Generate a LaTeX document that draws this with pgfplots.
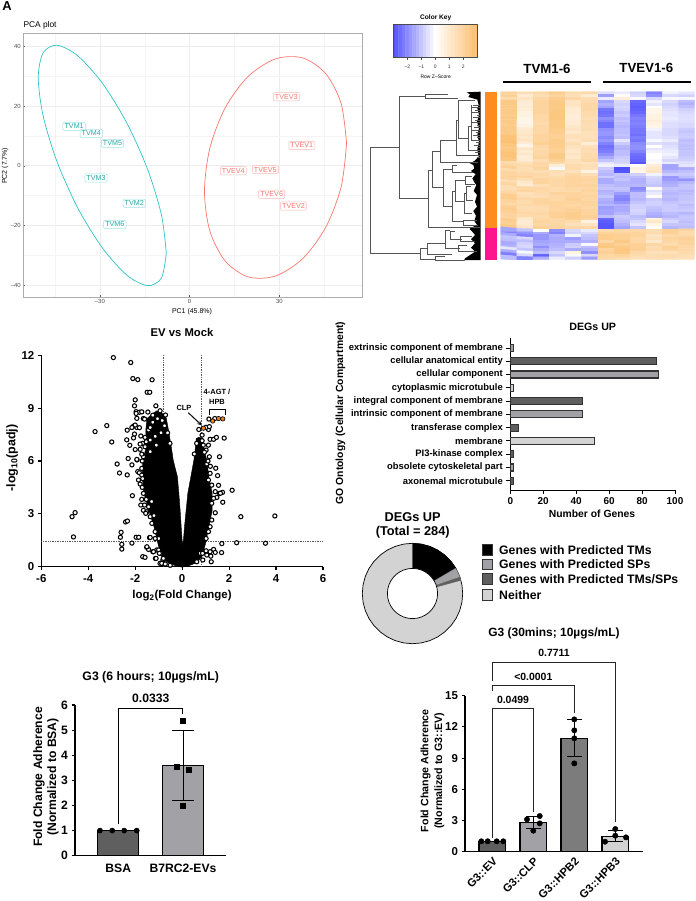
\documentclass[border=0pt]{standalone}
\usepackage{fontspec}
\setmainfont{Liberation Sans}
\usepackage{pgfplots}
\usepackage{pgfplotstable}
\pgfplotsset{compat=1.18}
\definecolor{tealc}{HTML}{2EC4C6}
\definecolor{redc}{HTML}{F8766D}
\definecolor{gdark}{HTML}{5F5F5F}
\definecolor{gmid}{HTML}{A2A2A6}
\definecolor{glight}{HTML}{D3D3D3}
\definecolor{gbar}{HTML}{7C7C7C}
\definecolor{dendro}{HTML}{555555}
\definecolor{orgbar}{HTML}{FF8C1E}
\definecolor{pinkbar}{HTML}{FF1490}
\definecolor{orgpt}{HTML}{E8821E}
\newcommand\fs[1]{\fontsize{#1}{#1}\selectfont}
\newcommand\T[4]{\node[font=\fs{#1},inner sep=0pt,#2] at (axis cs:#3) {#4};}
\tikzset{pca/.style={font=\fs{7.2},rounded corners=1.2bp,fill=white,inner sep=1.6bp,line width=.5bp}}
\pgfplotsset{
  place/.style n args={4}{scale only axis,at={(#1bp,{(901-#2-#4)*1bp})},anchor=south west,width=#3bp,height=#4bp},
  bold ax/.style={axis lines=left,axis line style={-,black,line width=1.1bp},
    tick style={black,line width=1.1bp},major tick length=3.5bp,tick align=outside,
    tick label style={font=\bfseries\fs{11.5}},/pgf/number format/assume math mode=true,clip=false},
  hole/.style={only marks,mark=*,mark size=2.1bp,mark options={fill=white,draw=black,line width=1.05bp}},
  gline/.style={dash pattern=on .8bp off .9bp,black!65,line width=.6bp},
}
\pgfplotstableread{
x y
0 1
.1736 .9848
.342 .9397
.5 .866
.6428 .766
.766 .6428
.866 .5
.9397 .342
.9848 .1736
1 0
.9848 -.1736
.9397 -.342
.866 -.5
.766 -.6428
.6428 -.766
.5 -.866
.342 -.9397
.1736 -.9848
0 -1
-.1736 -.9848
-.342 -.9397
-.5 -.866
-.6428 -.766
-.766 -.6428
-.866 -.5
-.9397 -.342
-.9848 -.1736
-1 0
-.9848 .1736
-.9397 .342
-.866 .5
-.766 .6428
-.6428 .766
-.5 .866
-.342 .9397
-.1736 .9848
}\unitcircle
\begin{document}
\begin{tikzpicture}
\useasboundingbox (0,0) rectangle (696bp,901bp);

% PCA
\begin{axis}[place={23.3}{33.3}{338.7}{264},
  xmin=-55.6,xmax=57.6,ymin=-44.1,ymax=44.4,
  xtick={-30,0,30},xticklabels={--30,0,30},ytick={-40,-20,0,20,40},yticklabels={--40,--20,0,20,40},
  minor xtick={-45,-15,15,45},minor ytick={-30,-10,10,30},
  grid=both,major grid style={gray!14,line width=.6bp},minor grid style={gray!9,line width=.35bp},
  axis line style={gray!65,line width=1bp},tick style={gray!70!black,line width=.4bp},
  major tick length=1.8bp,minor tick length=0pt,tick pos=left,
  tick label style={font=\fs{6},text=black!70},xticklabel shift=-1bp,yticklabel shift=-1bp]
\addplot[smooth,tealc,line width=.7bp] coordinates {(-7.8,-29.3)(-9.43,-16.5)(-14.07,-1.18)(-21,14.34)(-29.2,27.7)(-37.4,36.86)(-44.33,40.4)(-48.97,37.84)(-50.6,29.5)(-48.97,16.7)(-44.33,1.38)(-37.4,-14.14)(-29.2,-27.5)(-21,-36.66)(-14.07,-40.2)(-9.43,-37.64)(-7.8,-29.3)};
\addplot[smooth,redc,line width=.7bp] coordinates {(52.45,7.48)(50.64,20.81)(45.49,30.86)(37.8,36.15)(28.7,35.84)(19.6,29.99)(11.91,19.5)(6.76,5.95)(4.95,-8.6)(6.76,-21.93)(11.91,-31.98)(19.6,-37.27)(28.7,-36.96)(37.8,-31.11)(45.49,-20.62)(50.64,-7.07)(52.45,7.48)};
\node[pca,draw=tealc!45,text=tealc!85!black] at (axis cs:-38.6,13.2) {TVM1};
\node[pca,draw=tealc!45,text=tealc!85!black] at (axis cs:-32.9,10.8) {TVM4};
\node[pca,draw=tealc!45,text=tealc!85!black] at (axis cs:-25.8,7.5) {TVM5};
\node[pca,draw=tealc!45,text=tealc!85!black] at (axis cs:-31.3,-4.1) {TVM3};
\node[pca,draw=tealc!45,text=tealc!85!black] at (axis cs:-18.5,-12.6) {TVM2};
\node[pca,draw=tealc!45,text=tealc!85!black] at (axis cs:-25,-19.7) {TVM6};
\node[pca,draw=redc!50,text=redc] at (axis cs:32.3,23.1) {TVEV3};
\node[pca,draw=redc!50,text=redc] at (axis cs:37.5,6.8) {TVEV1};
\node[pca,draw=redc!50,text=redc] at (axis cs:14.6,-1.7) {TVEV4};
\node[pca,draw=redc!50,text=redc] at (axis cs:25.3,-1.3) {TVEV5};
\node[pca,draw=redc!50,text=redc] at (axis cs:27.4,-9.6) {TVEV6};
\node[pca,draw=redc!50,text=redc] at (axis cs:34.7,-13.5) {TVEV2};
\end{axis}

% colour key
\begin{axis}[place={393}{24.3}{84.7}{33.4},xmin=-3.02,xmax=3.03,ymin=0,ymax=1,
  colormap={key}{rgb255(0cm)=(79,79,255);rgb255(3cm)=(255,255,255);rgb255(6cm)=(253,190,110)},
  point meta min=-3,point meta max=3,
  xtick={-2,-1,0,1,2},xticklabels={--2,--1,0,1,2},ytick=\empty,tick pos=left,tick align=outside,
  major tick length=2bp,tick style={black!70,line width=.4bp},axis line style={black!70,line width=.6bp},
  tick label style={font=\fs{5},text=black!80},xticklabel shift=1.5bp,axis on top]
\addplot[matrix plot*,mesh/cols=25,point meta=x] table[row sep=crcr,header=false,x index=0,y expr={floor(\coordindex/25)}] {
-3\\-2.75\\-2.5\\-2.25\\-2\\-1.75\\-1.5\\-1.25\\-1\\-.75\\-.5\\-.25\\0\\.25\\.5\\.75\\1\\1.25\\1.5\\1.75\\2\\2.25\\2.5\\2.75\\3\\
-3\\-2.75\\-2.5\\-2.25\\-2\\-1.75\\-1.5\\-1.25\\-1\\-.75\\-.5\\-.25\\0\\.25\\.5\\.75\\1\\1.25\\1.5\\1.75\\2\\2.25\\2.5\\2.75\\3\\
};
\end{axis}

% heat map, one line per row
\begin{axis}[place={500.7}{91.7}{194}{168},hide axis,xmin=-.5,xmax=11.5,ymin=-.5,ymax=59.5,y dir=reverse,
  colormap={heat}{rgb255(0cm)=(79,79,255);rgb255(2.7cm)=(255,255,255);rgb255(4.6cm)=(252,192,112)},
  point meta min=-3,point meta max=1.6]
\addplot[matrix plot*,mesh/cols=12,point meta=explicit] table[row sep=crcr,header=false,x expr={mod(\coordindex,12)},y expr={floor(\coordindex/12)},meta index=0] {
1.0\\.7\\.9\\1.2\\.8\\.9\\-.8\\-.6\\-1.0\\-2.2\\-.5\\-.7\\
1.1\\.3\\.7\\1.0\\.6\\.3\\-1.8\\-.2\\-.9\\-2.0\\-.9\\-1.0\\
.8\\.5\\.9\\1.2\\.9\\.7\\-.6\\.2\\-.4\\-.9\\-.4\\-.4\\
1.3\\.3\\1.0\\1.3\\.5\\.8\\-1.7\\-.9\\-2.6\\-.5\\-.9\\-1.3\\
1.3\\.2\\1.0\\1.3\\.5\\.9\\-1.5\\-1.0\\-2.7\\-.7\\-1.0\\-1.5\\
1.3\\.3\\1.0\\1.3\\.4\\.9\\-1.7\\-.9\\-2.8\\-.3\\-.9\\-1.3\\
1.3\\.2\\1.0\\1.3\\.3\\.9\\-2.4\\-1.0\\-2.7\\.0\\-.8\\-1.0\\
1.3\\.1\\1.0\\1.4\\.3\\.8\\-2.5\\-1.2\\-2.6\\.0\\-.7\\-.9\\
1.2\\.1\\.9\\1.4\\.2\\.8\\-2.4\\-1.1\\-2.4\\.1\\-.7\\-.8\\
1.3\\.0\\.9\\1.4\\.2\\.7\\-2.0\\-1.3\\-2.2\\.1\\-.6\\-.8\\
1.3\\.0\\.9\\1.3\\.3\\.8\\-2.2\\-1.2\\-2.3\\.2\\-.7\\-.8\\
1.3\\.0\\.8\\1.3\\.3\\.7\\-2.5\\-1.3\\-2.2\\.1\\-.8\\-.9\\
1.2\\.1\\.9\\1.3\\.4\\.7\\-2.5\\-1.4\\-2.3\\.0\\-.8\\-.9\\
1.3\\.3\\.9\\1.2\\.5\\.7\\-2.0\\-1.3\\-2.4\\-.5\\-.9\\-1.1\\
1.3\\.4\\.9\\1.2\\.4\\.6\\-1.9\\-1.3\\-2.4\\-.7\\-.9\\-1.2\\
1.4\\.5\\1.0\\1.1\\.6\\.6\\-1.9\\-1.2\\-2.5\\-.7\\-.9\\-1.1\\
1.5\\.4\\1.0\\1.1\\.6\\.6\\-2.1\\-1.3\\-2.3\\-.7\\-.8\\-1.1\\
1.5\\.5\\1.0\\1.2\\.5\\.7\\-1.9\\-.7\\-2.4\\-.4\\-.6\\-1.3\\
1.6\\.3\\1.1\\1.2\\.7\\.2\\-2.2\\-1.1\\-2.1\\-.8\\-.9\\-1.2\\
1.4\\.0\\.9\\1.2\\.6\\.6\\-2.5\\-1.4\\-2.0\\-.3\\-.8\\-1.3\\
1.3\\.5\\.8\\1.1\\.5\\.8\\-2.4\\-1.5\\-2.0\\-.7\\-.7\\-1.3\\
1.4\\.3\\.9\\1.1\\.4\\.7\\-2.3\\-1.3\\-2.2\\-.5\\-.6\\-1.2\\
1.5\\.4\\.9\\1.3\\.5\\.8\\-2.0\\-1.3\\-2.5\\-.3\\-.5\\-1.2\\
1.5\\.2\\1.0\\1.3\\.4\\.8\\-1.6\\-1.1\\-2.6\\-.3\\-.7\\-1.1\\
1.4\\.3\\.7\\1.1\\.6\\.9\\-1.2\\-1.0\\-2.7\\-.4\\-.9\\-1.0\\
.6\\.6\\.9\\.8\\.6\\.5\\-.7\\-.9\\-2.9\\-.2\\-.6\\-.8\\
.9\\.8\\.9\\.2\\.8\\.7\\-.5\\-.6\\-.2\\.2\\-1.7\\-.7\\
1.1\\.7\\1.0\\-.4\\.8\\.6\\-1.1\\-3.0\\.1\\.4\\-1.7\\-1.6\\
.8\\.7\\.7\\.7\\.6\\.1\\-1.3\\-2.9\\.0\\.5\\-1.4\\-1.3\\
1.0\\.9\\.9\\.6\\.9\\.7\\-1.4\\-1.2\\-1.0\\-.5\\-1.1\\-1.1\\
1.1\\1.0\\.8\\.8\\1.0\\.9\\-1.1\\-1.3\\-1.3\\-.9\\-1.9\\-1.3\\
1.0\\.7\\1.0\\.9\\1.0\\1.0\\-1.6\\-1.2\\-1.5\\-1.0\\-1.8\\-2.0\\
.7\\.4\\1.0\\.9\\1.0\\.9\\-1.6\\-1.4\\-1.5\\-1.1\\-1.6\\-1.4\\
1.0\\.3\\.7\\.9\\1.0\\1.0\\-1.3\\-1.4\\-1.4\\-1.2\\-1.5\\-1.2\\
.7\\.9\\.9\\.8\\.9\\.9\\-1.2\\-1.2\\-2.1\\-.2\\-1.2\\-1.2\\
.8\\1.0\\.9\\.8\\.8\\1.0\\-1.5\\-1.3\\-1.9\\-.8\\-1.3\\-1.4\\
.9\\.6\\.8\\1.0\\1.0\\.9\\-1.4\\-1.8\\-1.3\\-.6\\-1.4\\-1.3\\
1.2\\.7\\.7\\.9\\1.0\\1.0\\-1.2\\-2.1\\-1.3\\-.2\\-1.3\\-1.2\\
1.2\\.9\\1.0\\.9\\1.1\\.9\\-1.5\\-2.2\\-1.4\\-1.1\\-1.4\\-1.2\\
1.0\\.8\\1.0\\1.0\\1.0\\1.0\\-1.6\\-1.9\\-1.2\\-1.0\\-1.2\\-1.1\\
.8\\.9\\.9\\1.0\\.9\\1.0\\-1.4\\-1.5\\-1.0\\-1.0\\-1.1\\-1.3\\
1.1\\.7\\.8\\1.0\\1.0\\.9\\-1.8\\-1.6\\-1.0\\-1.2\\-1.1\\-1.2\\
1.2\\.8\\.8\\1.0\\1.1\\1.0\\-1.7\\-1.6\\-.9\\-1.3\\-1.1\\-1.1\\
1.1\\.9\\.9\\1.1\\1.2\\1.0\\-1.7\\-1.4\\-1.0\\-1.5\\-1.3\\-1.4\\
1.0\\.8\\.8\\1.1\\1.2\\1.1\\-1.3\\-1.1\\-1.3\\-1.6\\-1.4\\-1.2\\
1.1\\.4\\.9\\.9\\1.1\\1.0\\-2.6\\-1.2\\-1.2\\.1\\-1.1\\-1.2\\
1.2\\.3\\1.0\\.9\\.8\\.1\\-2.8\\-1.3\\-.9\\.4\\-.9\\-1.3\\
1.1\\.3\\.9\\.9\\.6\\.5\\-2.9\\-1.5\\-.7\\.0\\-1.2\\-1.2\\
1.3\\.5\\1.1\\1.0\\.9\\.9\\-2.9\\-1.7\\-1.2\\-.2\\-1.4\\-1.3\\
-1.7\\-1.2\\-.3\\-2.0\\-.9\\-.6\\.8\\.9\\.9\\.7\\1.1\\1.0\\
-2.2\\-1.9\\-1.6\\-2.2\\-1.0\\-.9\\1.0\\1.0\\1.0\\.8\\1.1\\.8\\
-1.6\\-2.2\\-1.9\\-1.5\\-.5\\-1.2\\1.2\\1.1\\1.0\\.5\\.9\\.9\\
-1.2\\-.9\\-1.9\\-1.6\\-1.8\\-1.3\\1.2\\1.1\\.9\\.6\\1.0\\1.1\\
-1.3\\-1.3\\-1.7\\-1.6\\-1.6\\-1.5\\.9\\1.3\\.9\\.4\\.9\\1.0\\
-1.6\\-1.0\\-1.6\\-1.5\\-1.1\\-.4\\1.3\\1.1\\1.1\\.9\\.8\\1.0\\
-1.5\\-.9\\-2.0\\-1.4\\-1.0\\-1.3\\1.4\\1.3\\1.1\\.7\\1.1\\.9\\
-.7\\-1.2\\-1.6\\-1.3\\-1.6\\-1.5\\1.0\\1.4\\1.1\\.8\\1.0\\.9\\
-1.6\\-.4\\-1.3\\-.9\\.1\\-2.0\\1.1\\1.3\\.9\\.6\\.6\\.8\\
-2.3\\-.9\\-2.7\\-1.2\\-.4\\-.9\\.9\\1.0\\.8\\.7\\.8\\.7\\
-1.3\\-2.2\\-1.5\\-.6\\-1.0\\-1.8\\.9\\.8\\.6\\.7\\.7\\.6\\
};
\end{axis}

% dendrogram, coordinates in a 405x540 grid
\begin{axis}[place={365}{85}{135}{180},hide axis,xmin=0,xmax=405,ymin=0,ymax=540,y dir=reverse,clip=false]
\addplot[fill=black,draw=none] coordinates {(347,20)(305,22)(315,28)(310,36)(337,44)(341,60)(337,70)(342,90)(336,110)(342,130)(337,150)(342,170)(337,195)(341,215)(328,228)(315,235)(325,240)(328,250)(318,258)(332,268)(322,280)(328,292)(334,300)(326,318)(336,330)(330,350)(336,365)(325,378)(333,392)(328,408)(336,420)(318,428)(314,432)(320,438)(330,450)(318,462)(330,475)(318,488)(330,500)(312,512)(300,520)(298,525)(347,525)} --cycle;
\addplot[dendro,line width=.6bp,unbounded coords=jump] coordinates {
(103,187)(16,187)(16,505)(165,505)(nan,nan)
(182,33)(103,33)(103,340)(190,340)(nan,nan)
(250,28)(182,28)(182,40)(280,40)(nan,nan)
(202,255)(190,255)(190,427)(345,427)(nan,nan)
(225,198)(202,198)(202,308)(235,308)(nan,nan)
(275,167)(225,167)(225,232)(340,232)(nan,nan)
(280,105)(275,105)(275,212)(320,212)(nan,nan)
(330,47)(280,47)(280,160)(310,160)(nan,nan)
(318,125)(310,125)(310,195)(335,195)(nan,nan)
(322,60)(318,60)(318,165)(335,165)(nan,nan)
(262,252)(235,252)(235,365)(262,365)(nan,nan)
(275,240)(262,240)(262,262)(325,262)(nan,nan)
(270,320)(262,320)(262,410)(295,410)(nan,nan)
(300,285)(270,285)(270,350)(298,350)(nan,nan)
(305,325)(298,325)(298,385)(320,385)(nan,nan)
(335,405)(295,405)(295,420)(340,420)(nan,nan)
(320,275)(300,275)(300,298)(330,298)(nan,nan)
(318,305)(305,305)(305,345)(325,345)(nan,nan)
(187,490)(165,490)(165,522)(210,522)(nan,nan)
(240,475)(187,475)(187,507)(260,507)(nan,nan)
(255,435)(240,435)(240,490)(285,490)(nan,nan)
(270,440)(255,440)(255,462)(290,462)(nan,nan)
(240,514)(210,514)(210,527)(300,527)(nan,nan)
(320,455)(285,455)(285,470)(330,470)(nan,nan)
(305,480)(280,480)(280,500)(335,500)(nan,nan)
(325,60)(347,60)(nan,nan)(320,67)(347,67)(nan,nan)(330,75)(347,75)(nan,nan)(322,82)(347,82)(nan,nan)
(335,90)(347,90)(nan,nan)(325,97)(347,97)(nan,nan)(330,105)(347,105)(nan,nan)(322,112)(347,112)(nan,nan)
(335,120)(347,120)(nan,nan)(328,128)(347,128)(nan,nan)(320,135)(347,135)(nan,nan)(332,143)(347,143)(nan,nan)
(325,150)(347,150)(nan,nan)(335,158)(347,158)(nan,nan)(322,165)(347,165)(nan,nan)(333,173)(347,173)(nan,nan)
(328,180)(347,180)(nan,nan)(335,188)(347,188)(nan,nan)(325,195)(347,195)(nan,nan)(330,203)(347,203)(nan,nan)
(322,210)(347,210)(nan,nan)(335,218)(347,218)
};
\end{axis}

% volcano
\begin{axis}[bold ax,place={41.3}{355.3}{281.7}{211.4},xmin=-6,xmax=6,ymin=0,ymax=12,
  xtick={-6,-4,-2,0,2,4,6},xticklabels={-6,-4,-2,0,2,4,6},ytick={0,3,6,9,12},xticklabel shift=.5bp]
\addplot[gline] coordinates {(-6,1.42)(6,1.42)};
\addplot[gline] coordinates {(-.8,0)(-.8,12)};
\addplot[gline] coordinates {(.8,0)(.8,12)};
\addplot[fill=black,draw=black] coordinates {(0,-.03)(-.3,.06)(-.62,.25)(-.85,.5)(-.95,.9)(-1.03,1.3)(-1.2,2.27)(-1.42,3.2)(-1.63,4.16)(-1.7,5.1)(-1.68,6.05)(-1.55,6.7)(-1.55,7.75)(-1.5,8.4)(-1.3,8.65)(-1.08,8.85)(-.85,8.7)(-.68,8.45)(-.58,7.75)(-.44,6.6)(-.38,6.05)(-.2,5.1)(-.14,4.16)(-.085,3.2)(-.04,2.27)(.02,1.1)(.06,1.6)(.1,2.27)(.17,3.2)(.24,4.16)(.37,5.1)(.5,6.05)(.55,6.6)(.6,7.28)(.72,7.35)(.88,7.28)(.94,6.6)(1.05,6.05)(1.14,5.1)(1.28,4.16)(1.28,3.2)(1.14,2.27)(1,1.32)(.85,.6)(.65,.25)(.3,.06)} --cycle;
\addplot[hole] coordinates {
(-2.93,11.87)(-2.19,11.59)(-2.1,10.68)(-1.89,10.62)(-1.28,10.61)(-1.49,9.9)(-1.38,9.9)(-2,9.47)(-2.03,9.13)(-1.12,9.13)
(-3.71,7.67)(-3.21,8.01)(-3,7.08)(-2.34,7.75)(-1.96,8.8)(-1.82,8.77)(-1.72,8.79)(-1.46,8.78)(-1.96,8.7)(-1.65,8.41)(-1.6,8.38)(-1.93,8.42)(-1.25,8.6)(-.94,8.85)(-.71,8.61)
(-2.36,7.2)(-2.07,7.31)(-2.23,6.89)(-2,6.65)(-2.3,6.14)(-1.92,6.06)(-2.14,5.78)(-2.77,5.83)(-2.67,5.32)(-2.34,5.21)(-2.12,4.03)(-1.86,4.92)(-1.89,5.4)
(-2.41,2.54)(-2.33,2.59)(-4.69,2.84)(-4.56,3.07)(-4.63,1.69)(-2.6,1.95)(-2.63,1.67)(-2.57,1.27)(-2.57,1)(-2.14,1.34)(-1.96,1.67)(-1.85,1.67)(-1.39,1.65)
(-1.51,1.1)(-1.43,.98)(-1.25,.85)(-1.68,.57)(-1.58,.53)(-1.14,.47)(-.91,.76)(-.82,.38)(-.94,.19)(-.77,.17)(-.51,.08)(-1.08,.95)
(-2.07,7.98)(-1.93,7.9)(-1.82,7.89)(-2.14,7.9)(-2,8.04)(-2.03,7.53)(-1.76,7.42)(-1.58,7.34)(-1.68,7)(-1.36,7.19)(-1.43,7.76)(-1.36,7.9)(-1.79,6.96)(-1.79,6.66)(-1.53,7.09)(-1.58,6.81)(-1.93,6.09)(-1.65,6.24)(-1.36,6.53)(-1.72,6.39)
(-1.72,5.58)(-1.82,5.33)(-1.72,5.2)(-1.79,4.69)(-1.65,4.16)(-1.72,3.82)(-1.53,3.82)(-1.76,3.5)(-1.6,3.5)(-1.65,3.2)(-1.51,3.12)(-1.43,3.4)(-1.55,3.03)(-1.36,2.84)(-1.29,2.46)(-1.15,1.99)(-1,1.6)(-1.36,1.66)(-1.15,1.6)
(-1.5,1.13)(-1.22,.85)(-1,.95)(-1.11,.47)(-.97,.76)(-.8,.47)(-.87,.19)(-.72,.15)(-1.7,6)(-1.68,5)(-1.7,4.5)(-1.3,3.7)(-1.2,2.9)(-1.25,8.2)(-1.05,8.4)(-.85,8.3)(-.75,8)(-.62,7.6)(-.52,7)(-1.15,7.4)(-.9,7.6)(-1.1,6.9)
(1.05,5.83)(1.19,5.3)(1.12,4.92)(1.26,4.63)(1.43,5.59)(1.51,5.17)(1.55,4.62)(1.41,4.26)(1.59,4.16)(1.72,4.22)(1.48,3.93)(1.34,3.88)(1.73,3.66)(1.26,3.6)(1.41,3.06)(1.26,2.65)(1.19,2.27)(1.12,1.99)(1.02,1.6)(1.69,1.31)(2.32,1.36)(1.68,.8)(1.34,.98)(1.19,.85)(1.05,.66)(.77,.76)(.88,.38)(1.24,.28)(.62,.28)(1.41,.81)(.87,.76)(1.02,.9)(1.22,.6)
(2.13,4.34)(2.5,2.84)(3.95,2.88)(3.55,1.33)(1.63,4.17)
(.71,7.79)(.85,7.47)(1.12,7.79)(1.02,7.91)(1.14,8.38)(1.16,7.95)(1.39,8.41)(1.19,7.23)(1.34,7.23)(1.46,7.34)(1.79,7.3)(1.59,6.24)(1.12,6.9)(1.02,6.62)(1.16,6.24)(.85,7.15)(.9,6.9)(.95,6.5)(1.1,6)(.62,7)(.52,6.4)(1.2,5.7)
};
\addplot[only marks,mark=*,mark size=2.2bp,mark options={fill=orgpt,draw=black,line width=.6bp}] coordinates {(.91,7.86)(1.3,8.27)(1.55,8.41)(1.73,8.39)};
\end{axis}

% GO bars
\begin{axis}[bold ax,place={510.3}{338.3}{164.7}{151.7},xmin=0,xmax=100,ymin=.3,ymax=11.73,
  axis line style={-,black,line width=.8bp},tick style={black,line width=.8bp},
  xbar,bar width=7bp,bar shift=0pt,
  xtick={0,20,40,60,80,100},ytick={1,...,11},major tick length=4bp,
  x tick label style={font=\bfseries\fs{10}},y tick label style={font=\bfseries\fs{9.45}},
  yticklabels={axonemal microtubule,obsolete cytoskeletal part,PI3-kinase complex,membrane,transferase complex,intrinsic component of membrane,integral component of membrane,cytoplasmic microtubule,cellular component,cellular anatomical entity,extrinsic component of membrane}]
\addplot[fill=gdark,draw=black!80,line width=1.2bp] coordinates {(89,10)(44,7)(5,5)(2,3)(2,1)};
\addplot[fill=gmid,draw=black!80,line width=1.2bp] coordinates {(2,11)(90,9)(44,6)(2,2)};
\addplot[fill=glight,draw=black!80,line width=1.2bp] coordinates {(2,8)(51,4)};
\end{axis}

% donut, TMs 47, SPs 9, both 3, neither 225 of 284
\begin{axis}[place={362.3}{543.3}{100.4}{100.4},hide axis,xmin=-1,xmax=1,ymin=-1,ymax=1,clip=false]
\addplot[fill=glight,draw=black,line width=.7bp] table[x=x,y=y] {\unitcircle} --cycle;
\addplot[fill=black,draw=black,line width=.4bp] coordinates {(0,0)(0,1)(.1736,.9848)(.342,.9397)(.5,.866)(.6428,.766)(.766,.6428)(.8625,.506)} --cycle;
\addplot[fill=gmid,draw=black!60,line width=.3bp] coordinates {(0,0)(.8625,.506)(.9397,.342)(.9455,.3256)} --cycle;
\addplot[fill=gdark,draw=black!60,line width=.3bp] coordinates {(0,0)(.9455,.3256)(.965,.2622)} --cycle;
\addplot[fill=white,draw=black,line width=.7bp] table[x expr=\thisrow{x}*.5,y expr=\thisrow{y}*.5] {\unitcircle} --cycle;
\end{axis}

% G3 6 hours
\begin{axis}[bold ax,place={75}{705}{150.7}{150.7},xmin=.331,xmax=2.66,ymin=0,ymax=6,
  xtick={1,2},xticklabels={BSA,B7RC2-EVs},ytick={0,...,6},x tick style={draw=none},
  xticklabel shift=1bp,tick label style={font=\bfseries\fs{12.2}},ybar,bar width=41.3bp,bar shift=0pt]
\addplot[fill=gdark,draw=black,line width=1.1bp] coordinates {(1,1)};
\addplot[fill=gmid,draw=black,line width=1.1bp] coordinates {(2,3.6)};
\addplot[draw=none,mark=none,error bars/.cd,y dir=both,y explicit,
  error bar style={black,line width=.8bp},error mark options={rotate=90,black,mark size=11bp,line width=.8bp}]
  coordinates {(2,3.6)+-(0,1.4)};
\addplot[only marks,mark=*,mark size=2.6bp,black] coordinates {(.717,1)(.906,1)(1.091,1)(1.285,1)};
\addplot[only marks,mark=square*,mark size=2.5bp,black] coordinates {(2,5.39)(1.91,3.54)(2.09,3.44)(2,1.99)};
\end{axis}

% G3 30 mins
\begin{axis}[bold ax,place={465}{695.7}{177.7}{156},xmin=.334,xmax=4.668,ymin=0,ymax=15,
  xtick={1,2,3,4},xticklabels={G3::EV,G3::CLP,G3::HPB2,G3::HPB3},ytick={0,3,...,15},x tick style={draw=none},
  x tick label style={font=\bfseries\fs{11.2},rotate=45,anchor=north east,inner sep=1pt},
  y tick label style={font=\bfseries\fs{11.5}},ybar,bar width=26.7bp,bar shift=0pt]
\addplot[fill=gdark,draw=black,line width=1.1bp] coordinates {(1,1)};
\addplot[fill=gmid,draw=black,line width=1.1bp] coordinates {(2,2.8)};
\addplot[fill=gbar,draw=black,line width=1.1bp] coordinates {(3,10.9)};
\addplot[fill=glight,draw=black,line width=1.1bp] coordinates {(4,1.5)};
\addplot[draw=none,mark=none,error bars/.cd,y dir=both,y explicit,
  error bar style={black,line width=.8bp},error mark options={rotate=90,black,mark size=7.2bp,line width=.8bp}]
  coordinates {(2,2.82)+-(0,.58)(3,10.96)+-(0,1.76)(4,1.5)+-(0,.55)};
\addplot[only marks,mark=*,mark size=2.7bp,black] coordinates {(.732,1)(.888,1)(1.107,1)(1.268,1)(1.846,3.11)(2.156,3.43)(2.156,2.72)(2,2.02)(3,12.72)(3,11.67)(3,10.9)(3,8.49)(4,2.18)(4,1.54)(4.26,1.38)(3.75,.96)};
\end{axis}

% everything placed by picture position
\begin{axis}[place={0}{0}{696}{901},hide axis,xmin=0,xmax=696,ymin=0,ymax=901,y dir=reverse,clip=false]
\addplot[fill=orgbar,draw=none] coordinates {(484.7,92)(497.3,92)(497.3,228)(484.7,228)} --cycle;
\addplot[fill=pinkbar,draw=none] coordinates {(484.7,228)(497.3,228)(497.3,260)(484.7,260)} --cycle;
\addplot[black,line width=2.3bp] coordinates {(503.3,81.7)(591.3,81.7)};
\addplot[black,line width=2.3bp] coordinates {(602.7,81.7)(690.7,81.7)};
\addplot[black,line width=.9bp] coordinates {(209,415)(209,409.3)(225.7,409.3)(225.7,415)};
\addplot[black,line width=1bp,-stealth] coordinates {(188.3,412.7)(201.7,425.3)};
\addplot[black,line width=.7bp] coordinates {(118.3,824)(118.3,708.3)(182.7,708.3)(182.7,714)};
\addplot[black!85,line width=.7bp] coordinates {(492.3,838)(492.3,708.7)(533.3,708.7)(533.3,811.7)};
\addplot[black!85,line width=.7bp] coordinates {(492.3,690.7)(492.3,685.3)(574.3,685.3)(574.3,713.3)};
\addplot[black!85,line width=.7bp] coordinates {(492.3,680.7)(492.3,662.3)(615.3,662.3)(615.3,821.7)};
\addplot[only marks,mark=square*,mark size=5.3bp,mark options={draw=black!80,line width=1bp,fill=black}] coordinates {(487.5,550)};
\addplot[only marks,mark=square*,mark size=5.3bp,mark options={draw=black!80,line width=1bp,fill=gmid}] coordinates {(487.5,564.3)};
\addplot[only marks,mark=square*,mark size=5.3bp,mark options={draw=black!80,line width=1bp,fill=gdark}] coordinates {(487.5,579)};
\addplot[only marks,mark=square*,mark size=5.3bp,mark options={draw=black!80,line width=1bp,fill=glight}] coordinates {(487.5,595)};
\T{13}{font=\bfseries\fs{13}}{7,6}{A}
\T{8.4}{anchor=west}{23.3,25}{PCA plot}
\T{7}{rotate=90}{5,165.7}{PC2 (7.7\%)}
\T{7}{}{192,312}{PC1 (45.8\%)}
\T{6.6}{font=\bfseries\fs{6.6}}{435.7,17.7}{Color Key}
\T{5}{}{435.7,76.7}{Row Z--Score}
\T{13.3}{font=\bfseries\fs{13.3}}{547,69}{TVM1-6}
\T{13.3}{font=\bfseries\fs{13.3}}{646.3,68.3}{TVEV1-6}
\T{11.3}{font=\bfseries\fs{11.3}}{182,332.3}{EV vs Mock}
\T{11.5}{font=\bfseries\fs{11.5}}{182,595.3}{log\textsubscript{2}(Fold Change)}
\T{12.5}{font=\bfseries\fs{12.5},rotate=90}{12.3,458}{-log\textsubscript{10}(padj)}
\T{7.5}{font=\bfseries\fs{7.5}}{217,392}{4-AGT /}
\T{7.5}{font=\bfseries\fs{7.5}}{217,402}{HPB}
\T{7.5}{font=\bfseries\fs{7.5}}{184,407.7}{CLP}
\T{10.7}{font=\bfseries\fs{10.7}}{592.7,326.7}{DEGs UP}
\T{10.4}{font=\bfseries\fs{10.4}}{592,514}{Number of Genes}
\T{10.4}{font=\bfseries\fs{10.4},rotate=90}{340.5,413}{GO Ontology (Cellular Compartment)}
\T{12.8}{font=\bfseries\fs{12.8}}{412.7,517.5}{DEGs UP}
\T{12.8}{font=\bfseries\fs{12.8}}{412.7,531.7}{(Total = 284)}
\T{12.3}{font=\bfseries\fs{12.3},anchor=west}{499,550}{Genes with Predicted TMs}
\T{12.3}{font=\bfseries\fs{12.3},anchor=west}{499,564.3}{Genes with Predicted SPs}
\T{12.3}{font=\bfseries\fs{12.3},anchor=west}{499,579}{Genes with Predicted TMs/SPs}
\T{12.3}{font=\bfseries\fs{12.3},anchor=west}{499,595}{Neither}
\T{12.3}{font=\bfseries\fs{12.3}}{150.7,677.3}{G3 (6 hours; 10µgs/mL)}
\T{12.2}{font=\bfseries\fs{12.2}}{150.7,698.3}{0.0333}
\T{12.2}{font=\bfseries\fs{12.2},rotate=90}{39,777}{Fold Change Adherence}
\T{12.2}{font=\bfseries\fs{12.2},rotate=90}{53,777}{(Normalized to BSA)}
\T{12}{font=\bfseries\fs{12}}{554,633}{G3 (30mins; 10µgs/mL)}
\T{10.5}{font=\bfseries\fs{10.5}}{554,653.3}{0.7711}
\T{10.5}{font=\bfseries\fs{10.5}}{533.3,676.7}{<0.0001}
\T{10.5}{font=\bfseries\fs{10.5}}{513,700}{0.0499}
\T{10.7}{font=\bfseries\fs{10.7},rotate=90}{425.7,770.7}{Fold Change Adherence}
\T{10.7}{font=\bfseries\fs{10.7},rotate=90}{439.3,770.7}{(Normalized to G3::EV)}
\end{axis}
\end{tikzpicture}
\end{document}
